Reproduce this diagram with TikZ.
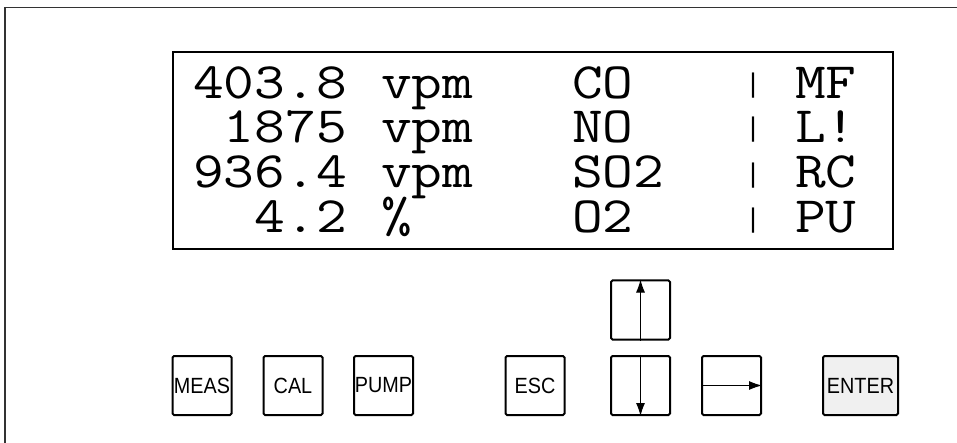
\documentclass[tikz,border=0pt]{standalone}
\usepackage{fontspec}
\usetikzlibrary{arrows.meta}
\newfontfamily\dispfont[FakeStretch=1.17]{Latin Modern Mono}
\newfontfamily\btnsans[FakeStretch=0.9]{Liberation Sans}
\newfontfamily\barsans{Liberation Sans}
\newcommand{\dispsize}{\dispfont\fontsize{51}{51}\selectfont}
\newcommand{\btnsize}{\btnsans\fontsize{22}{22}\selectfont}
\newcommand{\dbar}{\raisebox{5.6pt}{\barsans\fontsize{27}{27}\selectfont|}}
\begin{document}
\begin{tikzpicture}[x=1pt,y=-1pt,
  frameline/.style={line width=1.5pt,draw=black!80},
  dispbox/.style={line width=2pt,draw=black},
  dtxt/.style={inner sep=0pt,font=\dispsize},
  numtxt/.style={dtxt,anchor=base east},
  lefttxt/.style={dtxt,anchor=base west},
  bartxt/.style={dtxt,anchor=base},
  keybox/.style={draw,line width=2pt,rounded corners=1.5pt,minimum width=59,minimum height=59,inner sep=0pt,font=\btnsize},
  enterkey/.style={keybox,minimum width=75,fill=black!6},
  keyarrow/.style={line width=1pt,-{Latex[length=13pt,width=9pt]}}
]
\useasboundingbox (0,0) rectangle (957,443);
% outer frame
\draw[frameline] (5,443) -- (5,7.5) -- (957,7.5);
% display
\draw[dispbox] (172.5,52.5) rectangle (892.5,249);
% numbers
\node[numtxt] (n1) at (347,98.5) {403.8};
\node[numtxt] (n2) at (347,142.5) {1875};
\node[numtxt] (n3) at (347,188) {936.4};
\node[numtxt] (n4) at (347,233) {4.2};
% units
\node[lefttxt] (u1) at (381,98.5) {vpm};
\node[lefttxt] (u2) at (381,142.5) {vpm};
\node[lefttxt] (u3) at (381,188) {vpm};
\node[lefttxt] (u4) at (381,233) {\%};
% gases
\node[lefttxt] (g1) at (572,98.5) {CO};
\node[lefttxt] (g2) at (572,142.5) {NO};
\node[lefttxt] (g3) at (572,188) {SO2};
\node[lefttxt] (g4) at (572,233) {O2};
% separators
\node[bartxt] (b1) at (753,98.5) {\dbar};
\node[bartxt] (b2) at (753,142.5) {\dbar};
\node[bartxt] (b3) at (753,188) {\dbar};
\node[bartxt] (b4) at (753,233) {\dbar};
% flags
\node[lefttxt] (f1) at (795,98.5) {MF};
\node[lefttxt] (f2) at (795,142.5) {L!};
\node[lefttxt] (f3) at (795,188) {RC};
\node[lefttxt] (f4) at (795,233) {PU};
% keys
\node[keybox] (meas) at (202,385.5) {MEAS};
\node[keybox] (cal) at (293,385.5) {CAL};
\node[keybox] (pump) at (383.5,385.5) {PUMP};
\node[keybox] (esc) at (535,385.5) {ESC};
\node[keybox] (up) at (640.5,310) {};
\node[keybox] (down) at (640.5,385.5) {};
\node[keybox] (right) at (731.5,385.5) {};
\node[enterkey] (enter) at (860.5,385.5) {ENTER};
% arrows
\draw[keyarrow] (up.south) -- (up.north);
\draw[keyarrow] (down.north) -- (down.south);
\draw[keyarrow] (right.west) -- (right.east);
\end{tikzpicture}
\end{document}
